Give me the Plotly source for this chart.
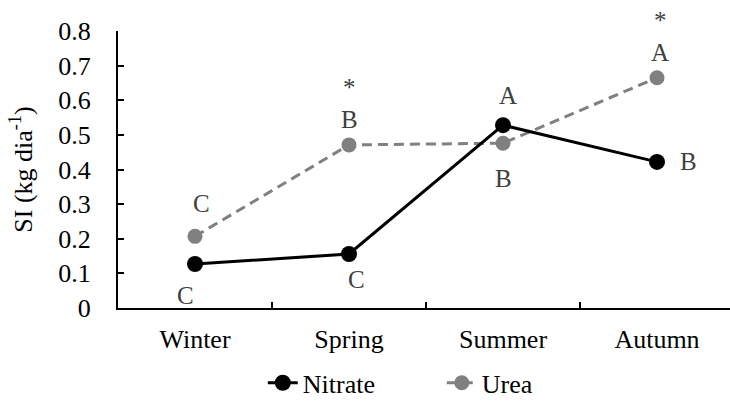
import plotly.graph_objects as go

# ---- data ----
seasons = ["Winter", "Spring", "Summer", "Autumn"]
nitrate = [0.127, 0.156, 0.528, 0.422]
urea = [0.207, 0.471, 0.476, 0.665]
nitrate_letters = ["C", "C", "A", "B"]
urea_letters = ["C", "B", "B", "A"]
urea_signif = ["", "*", "", "*"]
y_tick_vals = [0, 0.1, 0.2, 0.3, 0.4, 0.5, 0.6, 0.7, 0.8]
y_tick_text = ["0", "0.1", "0.2", "0.3", "0.4", "0.5", "0.6", "0.7", "0.8"]

FONT = "Liberation Serif"
LETTER_COLOR = "#404040"
FS = 26

fig = go.Figure()

fig.add_trace(go.Scatter(
    x=seasons, y=urea, name="Urea", mode="lines+markers",
    line=dict(color="#808080", width=3, dash="10px,6px"),
    marker=dict(color="#808080", size=15, symbol="circle"),
    legendrank=2,
))
fig.add_trace(go.Scatter(
    x=seasons, y=nitrate, name="Nitrate", mode="lines+markers",
    line=dict(color="#000000", width=3),
    marker=dict(color="#000000", size=16, symbol="circle"),
    legendrank=1,
))

# letter offsets (pixels) for placement of significance labels
nitrate_offsets = [(-10, -31), (7, -26), (5, 30), (31, 0)]
urea_offsets = [(6, 33), (0, 25), (0, -35), (3, 25)]
star_offset = 57

for s, v, t, (dx, dy) in zip(seasons, nitrate, nitrate_letters, nitrate_offsets):
    fig.add_annotation(x=s, y=v, xref="x", yref="y", text=t, showarrow=False,
                       xshift=dx, yshift=dy,
                       font=dict(family=FONT, size=25, color=LETTER_COLOR))
for s, v, t, st, (dx, dy) in zip(seasons, urea, urea_letters, urea_signif, urea_offsets):
    fig.add_annotation(x=s, y=v, xref="x", yref="y", text=t, showarrow=False,
                       xshift=dx, yshift=dy,
                       font=dict(family=FONT, size=25, color=LETTER_COLOR))
    if st:
        fig.add_annotation(x=s, y=v, xref="x", yref="y", text=st, showarrow=False,
                           xshift=dx, yshift=star_offset,
                           font=dict(family=FONT, size=25, color=LETTER_COLOR))

fig.update_layout(
    width=730, height=403,
    margin=dict(l=118, r=0, t=31, b=95),
    paper_bgcolor="white", plot_bgcolor="white",
    font=dict(family=FONT, size=FS, color="black"),
    showlegend=True,
    legend=dict(orientation="h", xref="container", yref="container",
                x=0.36, y=0.05, xanchor="left", yanchor="middle",
                entrywidth=134, entrywidthmode="pixels",
                font=dict(family=FONT, size=FS, color="black"),
                traceorder="normal"),
)
fig.update_xaxes(
    type="category", categoryorder="array", categoryarray=seasons,
    range=[-0.5, 3.474], showline=True, linecolor="black", linewidth=2,
    ticks="inside", tickson="boundaries", ticklen=6, tickcolor="black", tickwidth=1.5,
    showgrid=False, zeroline=False, ticklabelstandoff=7,
    tickfont=dict(family=FONT, size=FS, color="black"),
)
fig.update_yaxes(
    range=[0, 0.8], tickvals=y_tick_vals, ticktext=y_tick_text,
    showline=True, linecolor="black", linewidth=2,
    ticks="inside", ticklen=6, tickcolor="black", tickwidth=1.5,
    showgrid=False, zeroline=False, ticklabelstandoff=20,
    tickfont=dict(family=FONT, size=FS, color="black"),
    title=dict(text="SI (kg dia<sup>-1</sup>)", standoff=18,
               font=dict(family=FONT, size=FS, color="black")),
)

fig.write_html("out.html")
